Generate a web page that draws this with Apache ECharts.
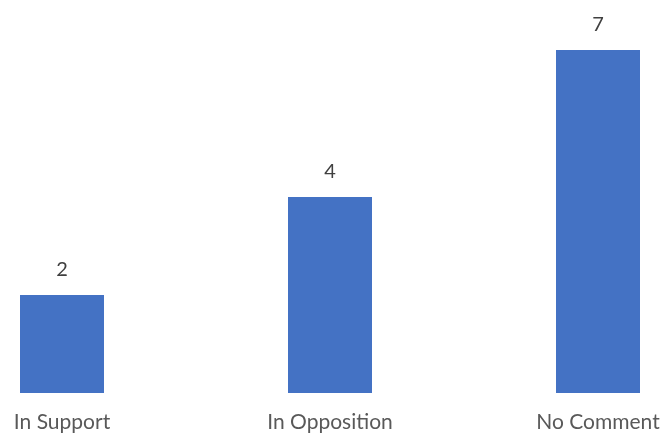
<!DOCTYPE html>
<html>
<head>
<meta charset="utf-8">
<script src="https://cdn.jsdelivr.net/npm/echarts@6/dist/echarts.min.js"></script>
<style>
html,body{margin:0;padding:0;background:#fff;}
#chart{width:665px;height:433px;}
</style>
</head>
<body>
<div id="chart"></div>
<script>
const categories = ["In Support", "In Opposition", "No Comment"];
const values = [2, 4, 7];

const chart = echarts.init(document.getElementById('chart'), null, {renderer: 'canvas'});
chart.setOption({
  animation: false,
  backgroundColor: '#ffffff',
  grid: { left: 62, right: 67, top: 1, bottom: 39.5, containLabel: false },
  xAxis: {
    type: 'category',
    data: categories,
    boundaryGap: false,
    axisLine: { show: false },
    axisTick: { show: false },
    axisLabel: { color: '#595959', fontFamily: 'Lato', fontSize: 21, margin: 19, interval: 0 }
  },
  yAxis: {
    type: 'value',
    min: 0,
    max: 8,
    show: false,
    splitLine: { show: false }
  },
  series: [{
    type: 'bar',
    data: values,
    barWidth: 84,
    itemStyle: { color: '#4472C4' },
    label: { show: true, position: 'top', distance: 15, color: '#404040', fontFamily: 'Lato', fontSize: 20 }
  }]
});
</script>
</body>
</html>
